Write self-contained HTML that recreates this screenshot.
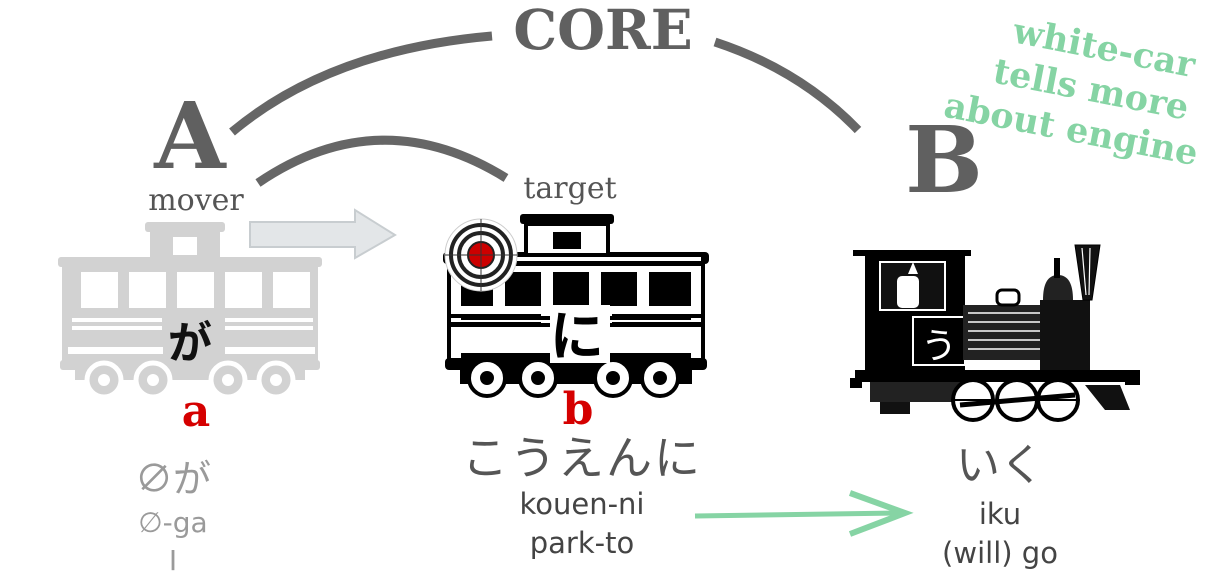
<!DOCTYPE html>
<html><head><meta charset="utf-8"><style>
html,body{margin:0;padding:0;background:#fff}
svg{display:block}
text{font-family:"DejaVu Serif","Liberation Serif","Noto Sans CJK JP",serif}
.jp{font-family:"Liberation Sans","Noto Sans CJK JP",sans-serif}
.sn{font-family:"DejaVu Sans","Liberation Sans",sans-serif}
</style></head><body>
<svg width="1232" height="587" viewBox="0 0 1232 587" xmlns="http://www.w3.org/2000/svg">
<!-- arcs -->
<path d="M232,132 Q330,50 492,36" fill="none" stroke="#666" stroke-width="9"/>
<path d="M715,42 Q800,70 858,130" fill="none" stroke="#666" stroke-width="9"/>
<path d="M258,183 Q380,100 506,178" fill="none" stroke="#666" stroke-width="9"/>
<text x="603" y="49" text-anchor="middle" font-size="55" font-weight="bold" fill="#606060">CORE</text>
<text x="190" y="168" text-anchor="middle" font-size="92" font-weight="bold" fill="#606060">A</text>
<text x="944" y="192" text-anchor="middle" font-size="92" font-weight="bold" fill="#606060">B</text>
<text x="196" y="210" text-anchor="middle" font-size="30" fill="#555">mover</text>
<text x="570" y="198" text-anchor="middle" font-size="30" fill="#555">target</text>
<!-- green note -->
<g transform="rotate(11 1090 95)" fill="#86d4a4" font-weight="bold" font-size="35" text-anchor="middle">
<text x="1095" y="58">white-car</text>
<text x="1090" y="101">tells more</text>
<text x="1078" y="144">about engine</text>
</g>
<!-- gray arrow -->
<path d="M250,222 L355,222 L355,210 L395,235 L355,258 L355,247 L250,247 Z" fill="#e3e6e8" stroke="#c8cdd0" stroke-width="2"/>
<!-- left car (gray) -->
<g fill="#d2d2d2">
<rect x="145" y="222" width="80" height="10" rx="3"/>
<rect x="150" y="230" width="70" height="30"/>
<rect x="58" y="257" width="264" height="10" rx="3"/>
<rect x="62" y="265" width="256" height="100"/>
<rect x="60" y="360" width="260" height="10" rx="3"/>
<rect x="75" y="368" width="230" height="12"/>
</g>
<rect x="173" y="237" width="24" height="18" fill="#fff"/>
<g fill="#fff">
<rect x="81" y="272" width="37" height="36"/><rect x="129" y="272" width="37" height="36"/><rect x="177" y="272" width="37" height="36"/><rect x="225" y="272" width="37" height="36"/><rect x="273" y="272" width="37" height="36"/>
<rect x="72" y="318" width="90" height="4"/><rect x="72" y="326" width="90" height="4"/>
<rect x="225" y="318" width="88" height="4"/><rect x="225" y="326" width="88" height="4"/>
<rect x="68" y="347" width="95" height="7"/><rect x="225" y="347" width="90" height="7"/>
</g>
<g fill="#d2d2d2" stroke="#fff" stroke-width="5">
<circle cx="104" cy="380" r="17"/><circle cx="153" cy="380" r="17"/><circle cx="228" cy="380" r="17"/><circle cx="276" cy="380" r="17"/>
</g>
<g fill="#fff"><circle cx="104" cy="380" r="6"/><circle cx="153" cy="380" r="6"/><circle cx="228" cy="380" r="6"/><circle cx="276" cy="380" r="6"/></g>
<text x="190" y="358" text-anchor="middle" class="jp" font-size="44" font-weight="bold" fill="#111">が</text>
<!-- middle car (black) -->
<g fill="#000">
<rect x="520" y="214" width="94" height="10" rx="3"/>
<rect x="524" y="222" width="86" height="35"/>
<rect x="443" y="252" width="266" height="12" rx="4"/>
<rect x="447" y="262" width="258" height="104"/>
<rect x="445" y="358" width="262" height="12" rx="4"/>
<rect x="460" y="368" width="232" height="16"/>
</g>
<rect x="528" y="226" width="78" height="27" fill="#fff"/>
<rect x="553" y="232" width="28" height="17" fill="#000"/>
<rect x="451" y="257" width="250" height="4" fill="#fff"/>
<g fill="#fff">
<rect x="451" y="266" width="250" height="6"/>
<rect x="451" y="272" width="10" height="86"/><rect x="691" y="272" width="10" height="86"/>
<rect x="493" y="272" width="12" height="36"/><rect x="541" y="272" width="12" height="36"/><rect x="589" y="272" width="12" height="36"/><rect x="637" y="272" width="12" height="36"/>
<rect x="451" y="306" width="250" height="10"/>
<rect x="451" y="320" width="250" height="3"/>
<rect x="451" y="327" width="250" height="26"/>
</g>
<g fill="#000"><rect x="451" y="322" width="90" height="5"/><rect x="612" y="322" width="89" height="5"/><rect x="451" y="314" width="90" height="4"/><rect x="612" y="314" width="89" height="4"/></g>
<g fill="#fff" stroke="#000" stroke-width="4">
<circle cx="487" cy="378" r="18"/><circle cx="538" cy="378" r="18"/><circle cx="613" cy="378" r="18"/><circle cx="660" cy="378" r="18"/>
</g>
<g fill="#000"><circle cx="487" cy="378" r="7"/><circle cx="538" cy="378" r="7"/><circle cx="613" cy="378" r="7"/><circle cx="660" cy="378" r="7"/></g>
<rect x="550" y="305" width="60" height="58" fill="#fff"/>
<text x="577" y="355" text-anchor="middle" class="jp" font-size="54" font-weight="bold" fill="#000">に</text>
<!-- target -->
<circle cx="481" cy="255" r="36" fill="#fff" stroke="#ccc" stroke-width="1"/>
<circle cx="481" cy="255" r="30" fill="none" stroke="#222" stroke-width="4"/>
<circle cx="481" cy="255" r="22" fill="none" stroke="#222" stroke-width="4"/>
<circle cx="481" cy="255" r="13" fill="#c00" stroke="#222" stroke-width="2"/>
<line x1="445" y1="255" x2="517" y2="255" stroke="#333" stroke-width="1"/>
<line x1="481" y1="219" x2="481" y2="291" stroke="#333" stroke-width="1"/>
<!-- locomotive -->
<g>
<rect x="853" y="250" width="118" height="6" fill="#000"/>
<rect x="865" y="256" width="100" height="115" fill="#000"/>
<path d="M880,262 L945,262 L945,310 L880,310 Z" fill="#111" stroke="#fff" stroke-width="2"/>
<rect x="897" y="276" width="22" height="32" rx="5" fill="#fff"/>
<path d="M913,262 l5,12 h-10 z" fill="#fff"/>
<rect x="913" y="317" width="52" height="48" fill="#000" stroke="#fff" stroke-width="2"/>
<text x="939" y="358" text-anchor="middle" class="jp" font-size="36" fill="#fff">う</text>
<rect x="963" y="305" width="80" height="55" fill="#222"/>
<g stroke="#fff" stroke-width="1.5"><line x1="968" y1="313" x2="1040" y2="313"/><line x1="968" y1="322" x2="1040" y2="322"/><line x1="968" y1="331" x2="1040" y2="331"/><line x1="968" y1="340" x2="1040" y2="340"/><line x1="968" y1="349" x2="1040" y2="349"/></g>
<path d="M1040,300 h50 v70 h-50z" fill="#111"/>
<path d="M1075,245 L1100,245 L1092,300 L1083,300 Z" fill="#111" stroke="#000"/>
<g stroke="#fff" stroke-width="1.2"><line x1="1082" y1="248" x2="1086" y2="295"/><line x1="1090" y1="248" x2="1089" y2="295"/></g>
<path d="M1043,300 q0,-25 15,-25 q15,0 15,25 z" fill="#222"/>
<rect x="1054" y="258" width="6" height="20" fill="#000"/>
<rect x="997" y="290" width="22" height="15" rx="5" fill="#fff" stroke="#000" stroke-width="3"/>
<rect x="855" y="370" width="285" height="12" fill="#000"/>
<rect x="870" y="382" width="110" height="20" fill="#222"/>
<rect x="850" y="378" width="12" height="10" fill="#000"/>
<rect x="1125" y="375" width="15" height="10" fill="#000"/>
<g fill="#fff" stroke="#000" stroke-width="4"><circle cx="973" cy="400" r="20"/><circle cx="1017" cy="400" r="20"/><circle cx="1058" cy="400" r="20"/></g>
<g stroke="#000" stroke-width="2"><line x1="955" y1="400" x2="991" y2="400"/><line x1="999" y1="400" x2="1035" y2="400"/><line x1="1040" y1="400" x2="1076" y2="400"/><line x1="960" y1="405" x2="1075" y2="395" stroke-width="5"/></g>
<path d="M880,402 h30 v12 h-30z M1085,385 l35,0 l10,25 l-25,0z" fill="#111"/>
</g>
<!-- red labels -->
<text x="196" y="426" text-anchor="middle" font-size="44" font-weight="bold" fill="#d50000">a</text>
<text x="578" y="424" text-anchor="middle" font-size="44" font-weight="bold" fill="#d50000">b</text>
<!-- bottom texts -->
<text x="173" y="492" text-anchor="middle" class="jp" font-size="38" fill="#9a9a9a">∅が</text>
<text x="173" y="532" text-anchor="middle" class="sn" font-size="28" fill="#9a9a9a">∅-ga</text>
<text x="173" y="570" text-anchor="middle" class="sn" font-size="28" fill="#9a9a9a">I</text>
<text x="582" y="474" text-anchor="middle" class="jp" font-size="46" fill="#555" letter-spacing="2">こうえんに</text>
<text x="582" y="514" text-anchor="middle" class="sn" font-size="29" fill="#444">kouen-ni</text>
<text x="582" y="553" text-anchor="middle" class="sn" font-size="29" fill="#444">park-to</text>
<text x="1000" y="480" text-anchor="middle" class="jp" font-size="44" fill="#555">いく</text>
<text x="1000" y="524" text-anchor="middle" class="sn" font-size="29" fill="#444">iku</text>
<text x="1000" y="563" text-anchor="middle" class="sn" font-size="29" fill="#444">(will) go</text>
<!-- green arrow -->
<line x1="695" y1="516" x2="900" y2="513" stroke="#86d4a4" stroke-width="5"/>
<path d="M850,493 L905,513 L850,534" fill="none" stroke="#86d4a4" stroke-width="6"/>
</svg>
</body></html>
